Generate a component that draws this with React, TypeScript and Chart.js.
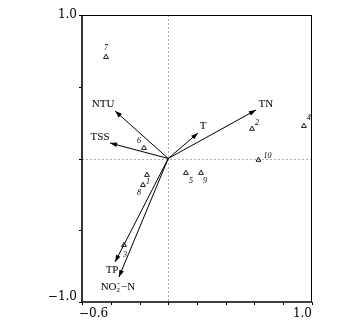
import { useEffect, useRef } from "react";
import { Chart, registerables } from "chart.js";
Chart.register(...registerables);

const siteNames = ["1", "2", "3", "4", "5", "6", "7", "8", "9", "10"];
const siteX = [-0.148, 0.583, -0.308, 0.944, 0.123, -0.169, -0.433, -0.176, 0.228, 0.628];
const siteY = [-0.115, 0.206, -0.603, 0.226, -0.101, 0.073, 0.707, -0.185, -0.101, -0.010];

const varNames = ["TN", "T", "NTU", "TSS", "TP", "NO2-N"];
const varX = [0.61, 0.207, -0.37, -0.405, -0.37, -0.343];
const varY = [0.338, 0.178, 0.331, 0.108, -0.721, -0.826];

const xTicks = [-0.6, -0.4, -0.2, 0, 0.2, 0.4, 0.6, 0.8, 1.0];
const yTicks = [-1.0, -0.5, 0, 0.5, 1.0];
const xLabelTicks = [-0.6, 1.0];
const yLabelTicks = [-1.0, 1.0];

// label offsets in px (layout only)
const siteLabelOffsets: [number, number][] = [
  [1, 7], [5, -6], [1, 10], [5, -8], [5, 8], [-5, -7], [0, -9], [-4, 8], [4, 8], [9, -4],
];
const varLabelOffsets: [number, number][] = [
  [10, -6], [5, -7], [-12, -7], [-10, -6], [-3, 8], [-1, 10],
];

const SERIF = "'Liberation Serif', 'DejaVu Serif', serif";
const TICKFONT = "'DejaVu Serif', serif";

const fmt = (v: number) => (v < 0 ? "\u2212" : "") + Math.abs(v).toFixed(1);

const biplotPlugin = {
  id: "biplot",
  beforeDatasetsDraw(chart: any) {
    const { ctx, chartArea: a, scales } = chart;
    const x0 = scales.x.getPixelForValue(0);
    const y0 = scales.y.getPixelForValue(0);
    ctx.save();
    ctx.strokeStyle = "#9a9a9a";
    ctx.lineWidth = 0.8;
    ctx.setLineDash([2, 2]);
    ctx.beginPath();
    ctx.moveTo(Math.round(x0) + 0.5, a.top);
    ctx.lineTo(Math.round(x0) + 0.5, a.bottom);
    ctx.moveTo(a.left, Math.round(y0) + 0.5);
    ctx.lineTo(a.right, Math.round(y0) + 0.5);
    ctx.stroke();
    ctx.restore();
  },
  afterDatasetsDraw(chart: any) {
    const { ctx, chartArea: a, scales } = chart;
    const sx = scales.x, sy = scales.y;
    const ox = sx.getPixelForValue(0), oy = sy.getPixelForValue(0);
    ctx.save();
    // arrowheads
    ctx.fillStyle = "#000";
    varX.forEach((vx, i) => {
      const px = sx.getPixelForValue(vx), py = sy.getPixelForValue(varY[i]);
      const ang = Math.atan2(py - oy, px - ox);
      const L = 7, W = 2.4;
      ctx.beginPath();
      ctx.moveTo(px, py);
      ctx.lineTo(px - L * Math.cos(ang) + W * Math.sin(ang), py - L * Math.sin(ang) - W * Math.cos(ang));
      ctx.lineTo(px - L * Math.cos(ang) - W * Math.sin(ang), py - L * Math.sin(ang) + W * Math.cos(ang));
      ctx.closePath();
      ctx.fill();
    });
    // variable labels
    ctx.textAlign = "center";
    ctx.textBaseline = "middle";
    varNames.forEach((n, i) => {
      const px = sx.getPixelForValue(varX[i]) + varLabelOffsets[i][0];
      const py = sy.getPixelForValue(varY[i]) + varLabelOffsets[i][1];
      if (n === "NO2-N") {
        ctx.font = `11px ${SERIF}`;
        const w1 = ctx.measureText("NO").width;
        ctx.font = `7px ${SERIF}`;
        const w2 = ctx.measureText("2").width;
        ctx.font = `11px ${SERIF}`;
        const w3 = ctx.measureText("\u2212N").width;
        const total = w1 + w2 + 1 + w3;
        let cx = px - total / 2;
        ctx.textAlign = "left";
        ctx.fillText("NO", cx, py);
        cx += w1;
        ctx.font = `7px ${SERIF}`;
        ctx.fillText("2", cx, py + 3);
        ctx.fillText("\u2212", cx, py - 3);
        cx += w2 + 1;
        ctx.font = `11px ${SERIF}`;
        ctx.fillText("\u2212N", cx, py);
        ctx.textAlign = "center";
      } else {
        ctx.font = `11px ${SERIF}`;
        ctx.fillText(n, px, py);
      }
    });
    // site labels
    ctx.font = `italic 8px ${SERIF}`;
    siteNames.forEach((n, i) => {
      const px = sx.getPixelForValue(siteX[i]) + siteLabelOffsets[i][0];
      const py = sy.getPixelForValue(siteY[i]) + siteLabelOffsets[i][1];
      ctx.fillText(n, px, py);
    });
    ctx.restore();
  },
  afterDraw(chart: any) {
    const { ctx, chartArea: a, scales } = chart;
    const sx = scales.x, sy = scales.y;
    ctx.save();
    ctx.strokeStyle = "#000";
    ctx.lineWidth = 1;
    ctx.beginPath();
    ctx.moveTo(a.left, a.top + 0.5);
    ctx.lineTo(a.right, a.top + 0.5);
    ctx.moveTo(a.right - 0.5, a.top);
    ctx.lineTo(a.right - 0.5, a.bottom);
    ctx.stroke();
    ctx.lineWidth = 1.6;
    ctx.beginPath();
    ctx.moveTo(a.left, a.top);
    ctx.lineTo(a.left, a.bottom);
    ctx.lineTo(a.right, a.bottom);
    ctx.stroke();
    ctx.lineWidth = 1;
    ctx.beginPath();
    xTicks.forEach((v) => {
      const px = Math.round(sx.getPixelForValue(v)) + 0.5;
      ctx.moveTo(px, a.bottom);
      ctx.lineTo(px, a.bottom + 3);
    });
    yTicks.forEach((v) => {
      const py = Math.round(sy.getPixelForValue(v)) + 0.5;
      ctx.moveTo(a.left, py);
      ctx.lineTo(a.left - 3, py);
    });
    ctx.stroke();
    ctx.fillStyle = "#000";
    ctx.font = `12px ${TICKFONT}`;
    ctx.textBaseline = "middle";
    ctx.textAlign = "right";
    yLabelTicks.forEach((v) => {
      const py = sy.getPixelForValue(v);
      ctx.fillText(fmt(v), a.left - 5, v < 0 ? py - 5 : py);
    });
    ctx.textBaseline = "top";
    xLabelTicks.forEach((v, i) => {
      const px = sx.getPixelForValue(v);
      ctx.textAlign = i === 0 ? "left" : "right";
      ctx.fillText(fmt(v), i === 0 ? px - 3 : px, a.bottom + 6);
    });
    ctx.restore();
  },
};

export default function App() {
  const ref = useRef<HTMLCanvasElement | null>(null);
  useEffect(() => {
    document.body.style.margin = "0";
    if (!ref.current) return;
    const arrowSets = varNames.map((n, i) => ({
      label: n,
      data: [{ x: 0, y: 0 }, { x: varX[i], y: varY[i] }],
      showLine: true,
      borderColor: "#000",
      borderWidth: 1,
      pointRadius: 0,
      pointHoverRadius: 0,
    }));
    const chart = new Chart(ref.current, {
      type: "scatter",
      data: {
        datasets: [
          ...arrowSets,
          {
            label: "sites",
            data: siteX.map((x, i) => ({ x, y: siteY[i] })),
            pointStyle: "triangle",
            pointRadius: 2.8,
            pointBorderWidth: 0.9,
            pointBorderColor: "#000",
            pointBackgroundColor: "rgba(0,0,0,0)",
            showLine: false,
          } as any,
        ],
      },
      options: {
        animation: false,
        responsive: false,
        maintainAspectRatio: false,
        events: [],
        layout: { padding: { left: 82, right: 47, top: 15, bottom: 31 } },
        plugins: { legend: { display: false }, tooltip: { enabled: false } },
        scales: {
          x: { type: "linear", min: -0.6, max: 1.0, display: false },
          y: { type: "linear", min: -1.0, max: 1.0, display: false },
        },
      },
      plugins: [biplotPlugin],
    });
    return () => chart.destroy();
  }, []);
  return (
    <div style={{ width: 359, height: 333, background: "#fff" }}>
      <canvas ref={ref} width={359} height={333} style={{ display: "block" }} />
    </div>
  );
}
